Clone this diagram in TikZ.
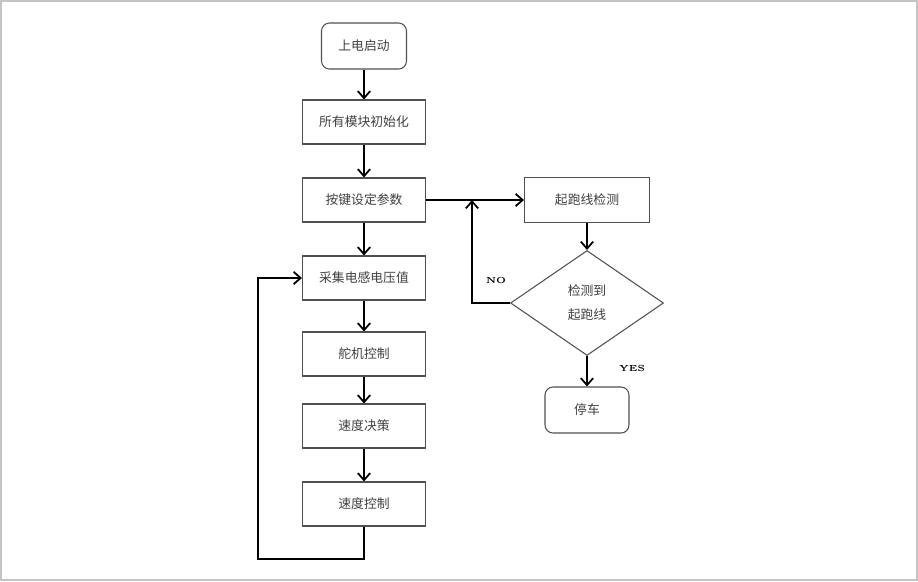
\documentclass[tikz,border=0pt]{standalone}
\usepackage{fontspec}
\newfontfamily\cjk{Noto Sans CJK SC}
\usepackage{tikz}
\usetikzlibrary{
  shapes.geometric,
  positioning,
  arrows.meta
}
\definecolor{boxline}{HTML}{505050}
\definecolor{frameclr}{HTML}{C4C4C4}

\begin{document}
\begin{tikzpicture}[
    box/.style={draw=boxline, line width=0.6pt, minimum width=2.46cm,
                minimum height=0.88cm, font=\cjk\fontsize{7.3}{9}\selectfont,
                text=black!75, align=center},
    term/.style={box, rounded corners=0.16cm, minimum width=1.7cm,
                minimum height=0.92cm},
    decide/.style={diamond, draw=boxline, line width=0.6pt, inner sep=0pt,
                minimum width=3.06cm, minimum height=2.1cm,
                font=\cjk\fontsize{7.3}{13.6}\selectfont, text=black!75,
                align=center},
    flow/.style={-{Straight Barb[length=4pt,width=7pt]}, line width=1pt},
    tag/.style={font=\fontsize{5}{6}\selectfont\bfseries},
  ]
  \useasboundingbox (0,0) rectangle (18.36,-11.62);
  \draw[frameclr, line width=1pt] (0.02,-0.02) rectangle (18.34,-11.6);

  % main column
  \node[term] (start)  at (7.28,-0.92)  {上电启动};
  \node[box]  (init)   at (7.28,-2.44)  {所有模块初始化};
  \node[box]  (keys)   at (7.28,-4.0)   {按键设定参数};
  \node[box]  (adc)    at (7.28,-5.56)  {采集电感电压值};
  \node[box]  (servo)  at (7.28,-7.08)  {舵机控制};
  \node[box]  (spddec) at (7.28,-8.52)  {速度决策};
  \node[box]  (spdctl) at (7.28,-10.08) {速度控制};

  % start line branch
  \node[box, minimum width=2.5cm, minimum height=0.9cm]
              (detect) at (11.74,-4.0)  {起跑线检测};
  \node[decide] (found) at (11.74,-6.06) {检测到\\起跑线};
  \node[term, minimum width=1.68cm] (stop) at (11.74,-8.2) {停车};

  \coordinate (loop) at (5.16,-11.18);
  \coordinate (merge) at (9.44,-4.0);

  \draw[flow] (start) -- (init);
  \draw[flow] (init) -- (keys);
  \draw[flow] (keys) -- (adc);
  \draw[flow] (adc) -- (servo);
  \draw[flow] (servo) -- (spddec);
  \draw[flow] (spddec) -- (spdctl);
  \draw[flow] (spdctl.south) |- (loop) |- (adc.west);

  \draw[flow] (keys) -- (detect);
  \draw[flow] (detect) -- (found);
  \draw[flow] (found.west) -| (merge);
  \draw[flow] (found) -- (stop);

  \node[tag] (no)  at (9.92,-5.6)  {NO};
  \node[tag] (yes) at (12.64,-7.36) {YES};
\end{tikzpicture}
\end{document}
